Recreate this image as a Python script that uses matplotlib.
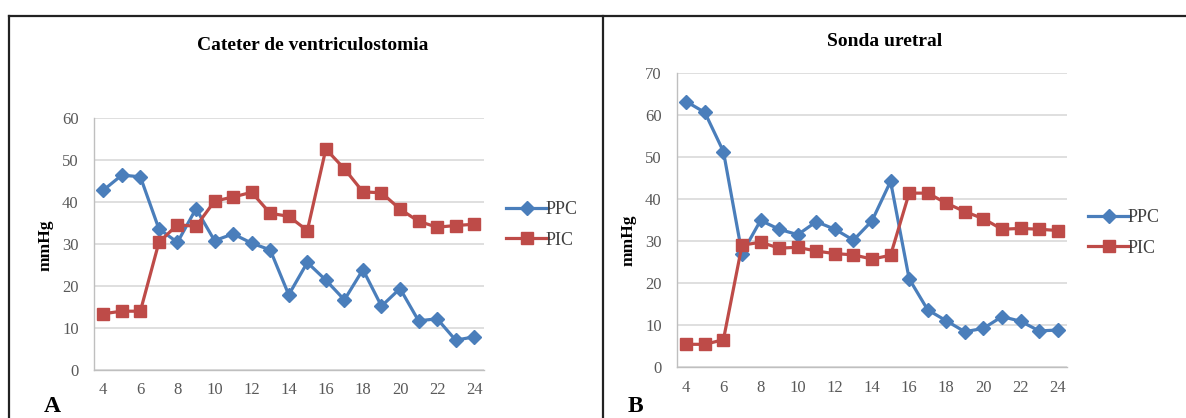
import matplotlib
matplotlib.use("Agg")
import matplotlib.pyplot as plt
from matplotlib.lines import Line2D

hours = list(range(4, 25))
x_ticks = list(range(4, 25, 2))

ppc_a = [42.8, 46.4, 46.0, 33.6, 30.4, 38.4, 30.8, 32.4, 30.2, 28.6, 17.9, 25.6,
         21.4, 16.7, 23.9, 15.2, 19.4, 11.7, 12.2, 7.1, 7.9]
pic_a = [13.4, 14.0, 14.0, 30.4, 34.6, 34.2, 40.2, 41.2, 42.3, 37.3, 36.6, 33.2,
         52.6, 47.9, 42.4, 42.2, 38.3, 35.4, 34.0, 34.4, 34.7]

ppc_b = [63.2, 60.6, 51.3, 27.0, 34.9, 32.8, 31.5, 34.6, 32.8, 30.2, 34.8, 44.2,
         21.0, 13.6, 11.0, 8.4, 9.2, 12.0, 10.9, 8.6, 8.8]
pic_b = [5.4, 5.4, 6.5, 29.0, 29.7, 28.3, 28.5, 27.6, 27.0, 26.7, 25.7, 26.6,
         41.4, 41.4, 39.0, 37.0, 35.3, 32.8, 33.0, 32.8, 32.5]

titles = ["Cateter de ventriculostomia", "Sonda uretral"]
panel_letters = ["A", "B"]
series_names = ["PPC", "PIC"]
y_max = [60, 70]

BLUE = "#4A7EBB"
RED = "#BE4B48"
W, H = 1186, 418
serif = ["Liberation Serif", "DejaVu Serif"]

fig = plt.figure(figsize=(W / 100, H / 100), dpi=100)

def px_axes(x0, x1, ytop, ybot):
    return fig.add_axes([x0 / W, 1 - ybot / H, (x1 - x0) / W, (ybot - ytop) / H])

axes_px = [(94, 483.5, 118, 370), (677, 1067, 73, 367)]
legend_px = [(506, 225), (1088, 233)]
title_px = [(313, 45), (885, 41)]
ylabel_px = [(46, 245), (629, 240)]
letter_px = [(44, 407), (628, 407)]

data = [(ppc_a, pic_a), (ppc_b, pic_b)]

for i in range(2):
    ax = px_axes(*axes_px[i])
    ppc, pic = data[i]
    ax.plot(hours, ppc, color=BLUE, lw=2.3, marker="D", ms=7, mfc=BLUE, mec=BLUE,
            label=series_names[0], zorder=3)
    ax.plot(hours, pic, color=RED, lw=2.3, marker="s", ms=8.5, mfc=RED, mec=RED,
            label=series_names[1], zorder=3)
    ax.set_xlim(3.5, 24.5)
    ax.set_ylim(0, y_max[i])
    ax.set_yticks(range(0, y_max[i] + 1, 10))
    ax.set_xticks(x_ticks)
    ax.grid(axis="y", color="#D9D9D9", lw=1.2)
    ax.set_axisbelow(True)
    for s in ["top", "right"]:
        ax.spines[s].set_visible(False)
    for s in ["left", "bottom"]:
        ax.spines[s].set_color("#BFBFBF")
        ax.spines[s].set_linewidth(1.0)
    ax.tick_params(length=0, labelsize=12, colors="#595959")
    ax.tick_params(axis="x", pad=9)
    ax.tick_params(axis="y", pad=11)
    for lab in ax.get_xticklabels() + ax.get_yticklabels():
        lab.set_family(serif)
    lx, ly = legend_px[i]
    leg = ax.legend(loc="center left", bbox_to_anchor=(lx / W, 1 - ly / H),
                    bbox_transform=fig.transFigure, frameon=False,
                    prop={"family": serif, "size": 13}, handlelength=2.3,
                    handletextpad=-0.1, labelspacing=0.75, borderpad=0,
                    borderaxespad=0)
    for t in leg.get_texts():
        t.set_color("#404040")
    tx, ty = title_px[i]
    fig.text(tx / W, 1 - ty / H, titles[i], ha="center", va="center",
             family=serif, weight="bold", size=14)
    yx, yy = ylabel_px[i]
    fig.text(yx / W, 1 - yy / H, "mmHg", ha="center", va="center", rotation=90,
             family=serif, weight="bold", size=12.5)
    px_, py_ = letter_px[i]
    fig.text(px_ / W, 1 - py_ / H, panel_letters[i], ha="left", va="center",
             family=serif, weight="bold", size=17)

# frame lines
fig.add_artist(Line2D([9 / W, 1], [1 - 16 / H, 1 - 16 / H], color="#222222", lw=1.6,
                      transform=fig.transFigure))
fig.add_artist(Line2D([9 / W, 9 / W], [0, 1 - 16 / H], color="#222222", lw=1.6,
                      transform=fig.transFigure))
fig.add_artist(Line2D([603 / W, 603 / W], [0, 1 - 16 / H], color="#222222", lw=1.6,
                      transform=fig.transFigure))

fig.savefig("out.png", dpi=100)
